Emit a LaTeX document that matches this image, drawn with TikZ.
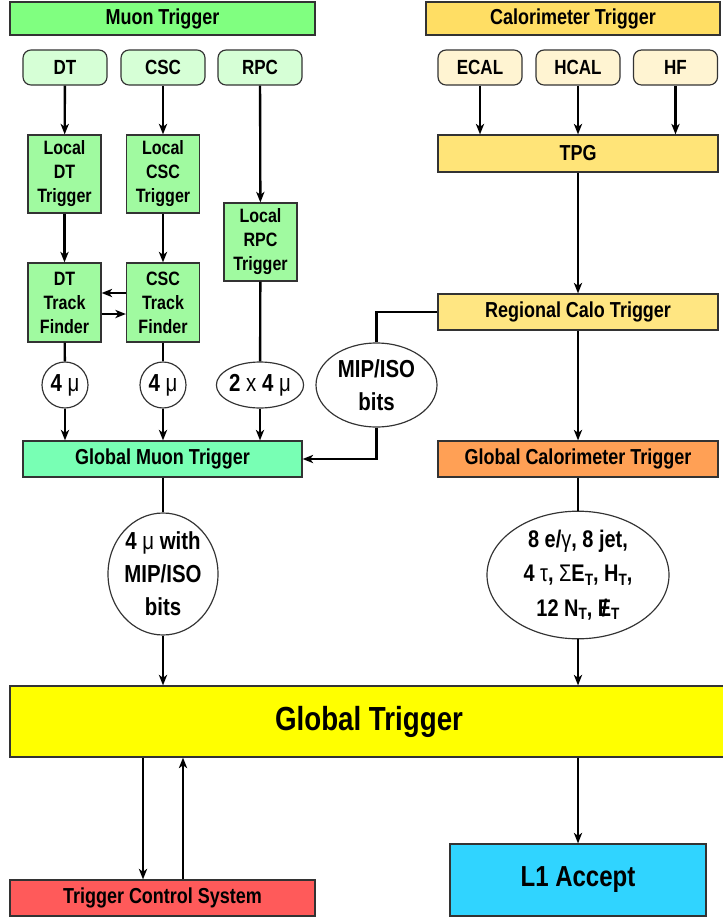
\documentclass[tikz,border=0pt]{standalone}
\usepackage{fontspec}
\setmainfont{Liberation Sans}[FakeStretch=0.83]
\usetikzlibrary{shapes.geometric, arrows.meta}

\definecolor{muonhead}{RGB}{128,255,128}
\definecolor{muonsrc}{RGB}{214,255,214}
\definecolor{muonbox}{RGB}{160,250,160}
\definecolor{gmtcol}{RGB}{120,255,180}
\definecolor{calohead}{RGB}{255,222,100}
\definecolor{calosrc}{RGB}{255,244,210}
\definecolor{tpgcol}{RGB}{255,228,120}
\definecolor{rctcol}{RGB}{255,230,130}
\definecolor{gctcol}{RGB}{255,160,85}
\definecolor{gtcol}{RGB}{255,255,0}
\definecolor{tcscol}{RGB}{255,90,90}
\definecolor{l1acol}{RGB}{48,212,255}

\newcommand{\mmu}{{\mdseries μ}}
\newcommand{\slashE}{\ooalign{E\cr\hfil/\hfil}}
\newcommand{\subT}[1]{#1\raisebox{-0.28ex}{\fontsize{14}{14}\selectfont T}}

\begin{document}
\begin{tikzpicture}[x=0.03cm, y=-0.03cm, >={Stealth[length=9pt, width=7pt, inset=2.5pt]},
    box/.style = {draw=black!80, line width=1pt, align=center, inner sep=0pt},
    head/.style = {box, minimum height=0.99cm, font=\fontsize{18.5}{22}\selectfont\bfseries},
    src/.style = {box, rounded corners=0.24cm, minimum width=2.52cm, minimum height=1.05cm, font=\fontsize{17.5}{21}\selectfont\bfseries},
    loc/.style = {box, fill=muonbox, minimum width=2.19cm, minimum height=2.34cm, font=\fontsize{16.5}{20.5}\selectfont\bfseries},
    wide/.style = {box, minimum width=8.4cm, minimum height=1.08cm, font=\fontsize{18.5}{22}\selectfont\bfseries},
    bits/.style = {draw=black!80, line width=1pt, fill=white, align=center, inner sep=0pt, font=\fontsize{21}{28}\selectfont\bfseries},
    arr/.style = {->, line width=2pt},
    link/.style = {line width=2pt}]
\useasboundingbox (0,0) rectangle (722,920);

% muon side
\node[head, fill=muonhead, minimum width=9.15cm] at (162.5,18.5) (muonhdr) {Muon Trigger};
\node[src, fill=muonsrc] at (65,67.5) (dt) {DT};
\node[src, fill=muonsrc] at (163,67.5) (csc) {CSC};
\node[src, fill=muonsrc] at (260,67.5) (rpc) {RPC};

\node[loc] at (64.5,174) (locdt) {Local\\DT\\Trigger};
\node[loc] at (163,174) (loccsc) {Local\\CSC\\Trigger};
\node[loc] at (260.5,242) (locrpc) {Local\\RPC\\Trigger};
\node[loc, minimum height=2.37cm] at (64.5,302.5) (tfdt) {DT\\Track\\Finder};
\node[loc, minimum height=2.37cm] at (163,302.5) (tfcsc) {CSC\\Track\\Finder};

\node[bits, circle, minimum size=1.38cm, font=\fontsize{21}{24}\selectfont\bfseries] at (65,385) (mudt) {4 \mmu};
\node[bits, circle, minimum size=1.38cm, font=\fontsize{21}{24}\selectfont\bfseries] at (163,385) (mucsc) {4 \mmu};
\node[bits, ellipse, minimum width=2.52cm, minimum height=1.38cm, font=\fontsize{21}{24}\selectfont\bfseries] at (260,385) (murpc) {2 {\mdseries x} 4 \mmu};

\node[wide, fill=gmtcol, minimum width=8.37cm] at (162.5,459) (gmt) {Global Muon Trigger};
\node[bits, ellipse, minimum width=3.63cm, minimum height=2.52cm] at (376.5,385) (mipiso) {MIP/ISO\\bits};
\node[bits, ellipse, minimum width=3.3cm, minimum height=3.66cm] at (163,574) (muout) {4 \mmu{} with\\MIP/ISO\\bits};

% calorimeter side
\node[head, fill=calohead, minimum width=8.82cm] at (573,18.5) (calohdr) {Calorimeter Trigger};
\node[src, fill=calosrc] at (480,67.5) (ecal) {ECAL};
\node[src, fill=calosrc] at (578,67.5) (hcal) {HCAL};
\node[src, fill=calosrc] at (675.5,67.5) (hf) {HF};
\node[wide, fill=tpgcol, minimum height=1.11cm] at (578,153.5) (tpg) {TPG};
\node[wide, fill=rctcol] at (578,312) (rct) {Regional Calo Trigger};
\node[wide, fill=gctcol] at (578,459) (gct) {Global Calorimeter Trigger};
\node[bits, ellipse, minimum width=5.46cm, minimum height=3.6cm, font=\fontsize{20.5}{29.5}\selectfont\bfseries] at (578,575) (caloout)
    {8 e/{\mdseries γ}, 8 jet,\\4 {\mdseries τ}, {\mdseries Σ}\subT{E}, \subT{H},\\12 \subT{N}, \subT{\slashE}};

% global trigger
\node[box, fill=gtcol, minimum width=21.54cm, minimum height=2.13cm, font=\fontsize{28.5}{32}\selectfont\bfseries] at (369,721.5) (gt) {Global Trigger};
\node[box, fill=tcscol, minimum width=9.15cm, minimum height=1.08cm, font=\fontsize{18.5}{22}\selectfont\bfseries] at (162.5,898) (tcs) {Trigger Control System};
\node[box, fill=l1acol, minimum width=7.68cm, minimum height=2.16cm, font=\fontsize{24.7}{28}\selectfont\bfseries] at (578,880) (l1a) {L1 Accept};

\draw [arr] (dt) -- (locdt);
\draw [arr] (csc) -- (loccsc);
\draw [arr] (rpc) -- (locrpc);
\draw [arr] (locdt) -- (tfdt);
\draw [arr] (loccsc) -- (tfcsc);
\draw [arr] (tfcsc.west |- 0,293) -- (tfdt.east |- 0,293);
\draw [arr] (tfdt.east |- 0,314) -- (tfcsc.west |- 0,314);
\draw [link] (tfdt) -- (mudt);
\draw [link] (tfcsc) -- (mucsc);
\draw [link] (locrpc) -- (murpc);
\draw [arr] (mudt) -- (gmt.north -| mudt);
\draw [arr] (mucsc) -- (gmt.north -| mucsc);
\draw [arr] (murpc) -- (gmt.north -| murpc);
\draw [link] (rct.west) -| (mipiso.north);
\draw [arr] (mipiso.south) |- (gmt.east);
\draw [link] (gmt.south -| muout) -- (muout);
\draw [arr] (muout) -- (gt.north -| muout);

\draw [arr] (ecal) -- (tpg.north -| ecal);
\draw [arr] (hcal) -- (tpg.north -| hcal);
\draw [arr] (hf) -- (tpg.north -| hf);
\draw [arr] (tpg) -- (rct);
\draw [arr] (rct) -- (gct);
\draw [link] (gct) -- (caloout);
\draw [arr] (caloout) -- (gt.north -| caloout);

\draw [arr] (gt.south -| 143,0) -- (tcs.north -| 143,0);
\draw [arr] (tcs.north -| 183,0) -- (gt.south -| 183,0);
\draw [arr] (gt.south -| l1a) -- (l1a);
\end{tikzpicture}
\end{document}
